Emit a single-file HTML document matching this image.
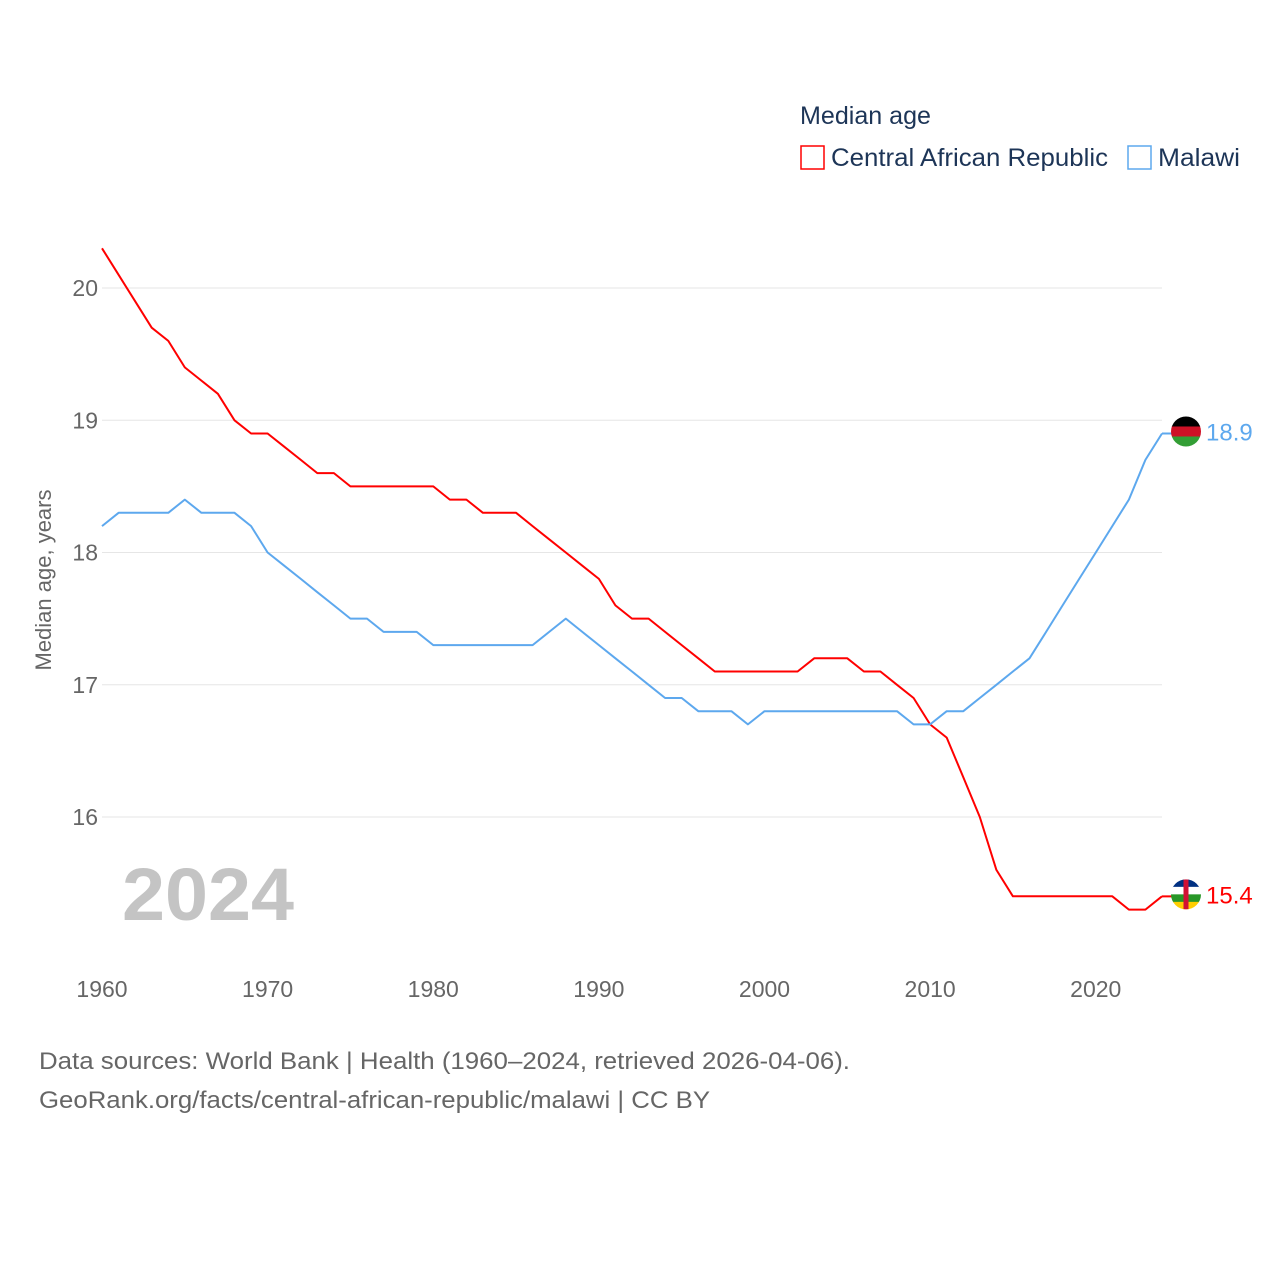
<!DOCTYPE html>
<html><head><meta charset="utf-8">
<style>
html,body{margin:0;padding:0;background:#fff;}
body{width:1280px;height:1280px;overflow:hidden;font-family:"Liberation Sans",sans-serif;}
</style></head>
<body>
<svg id="chart" width="1280" height="1280" xmlns="http://www.w3.org/2000/svg" font-family="Liberation Sans, sans-serif">
  <text x="800" y="124" font-size="25" fill="#1d3557" textLength="131" lengthAdjust="spacingAndGlyphs">Median age</text>
  <g>
    <rect x="801" y="146" width="23" height="23" fill="none" stroke="#f00" stroke-width="1.5"/>
    <text x="831" y="166" font-size="25" fill="#1d3557" textLength="277" lengthAdjust="spacingAndGlyphs">Central African Republic</text>
  </g>
  <g>
    <rect x="1128" y="146" width="23" height="23" fill="none" stroke="#5da8ee" stroke-width="1.5"/>
    <text x="1158" y="166" font-size="25" fill="#1d3557" textLength="82" lengthAdjust="spacingAndGlyphs">Malawi</text>
  </g>
  <text transform="translate(51,580) rotate(-90)" text-anchor="middle" font-size="22" fill="#666">Median age, years</text>
  <g id="grid"></g>
  <g id="xticks"></g>
  <text x="122" y="920" font-size="74" font-weight="bold" fill="#c4c4c4" textLength="172" lengthAdjust="spacingAndGlyphs">2024</text>
  <g id="series"></g>
  <text x="39" y="1069" font-size="24" fill="#666" textLength="811" lengthAdjust="spacingAndGlyphs">Data sources: World Bank | Health (1960–2024, retrieved 2026-04-06).</text>
  <text x="39" y="1108" font-size="24" fill="#666" textLength="671" lengthAdjust="spacingAndGlyphs">GeoRank.org/facts/central-african-republic/malawi | CC BY</text>
</svg>
<script>
const years = [];
for (let y = 1960; y <= 2024; y++) years.push(y);
const carValues = [20.3,20.1,19.9,19.7,19.6,19.4,19.3,19.2,19.0,18.9,18.9,18.8,18.7,18.6,18.6,18.5,18.5,18.5,18.5,18.5,18.5,18.4,18.4,18.3,18.3,18.3,18.2,18.1,18.0,17.9,17.8,17.6,17.5,17.5,17.4,17.3,17.2,17.1,17.1,17.1,17.1,17.1,17.1,17.2,17.2,17.2,17.1,17.1,17.0,16.9,16.7,16.6,16.3,16.0,15.6,15.4,15.4,15.4,15.4,15.4,15.4,15.4,15.3,15.3,15.4];
const malawiValues = [18.2,18.3,18.3,18.3,18.3,18.4,18.3,18.3,18.3,18.2,18.0,17.9,17.8,17.7,17.6,17.5,17.5,17.4,17.4,17.4,17.3,17.3,17.3,17.3,17.3,17.3,17.3,17.4,17.5,17.4,17.3,17.2,17.1,17.0,16.9,16.9,16.8,16.8,16.8,16.7,16.8,16.8,16.8,16.8,16.8,16.8,16.8,16.8,16.8,16.7,16.7,16.8,16.8,16.9,17.0,17.1,17.2,17.4,17.6,17.8,18.0,18.2,18.4,18.7,18.9];
const yTicks = [16,17,18,19,20];
const xTicks = [1960,1970,1980,1990,2000,2010,2020];

const NS = "http://www.w3.org/2000/svg";
const xScale = y => 102 + (y - 1960) * (1162 - 102) / 64;
const yScale = v => 288 + (20 - v) * 132.25;
function mk(tag, attrs, parent){const e=document.createElementNS(NS,tag);for(const k in attrs)e.setAttribute(k,attrs[k]);parent.appendChild(e);return e;}

const grid = document.getElementById('grid');
yTicks.forEach(t=>{
  const l = mk('line',{x1:102,x2:1162,y1:yScale(t),y2:yScale(t),stroke:'#e6e6e6','stroke-width':1},grid);
  
  
  const tx = mk('text',{x:98,y:yScale(t)+8,'text-anchor':'end','font-size':23,fill:'#666'},grid);
  tx.textContent = t;
  
  
});
const xg = document.getElementById('xticks');
xTicks.forEach(t=>{
  const tx = mk('text',{x:xScale(t),y:997,'text-anchor':'middle','font-size':23,fill:'#666'},xg);
  tx.textContent = t;
  
  
});

const sg = document.getElementById('series');
function drawLine(vals,color,name){
  const d = vals.map((v,i)=>(i?'L':'M')+xScale(years[i]).toFixed(1)+','+yScale(v).toFixed(1)).join(' ');
  const p = mk('path',{d:d,fill:'none',stroke:color,'stroke-width':2,'stroke-linejoin':'round'},sg);
  
  
}
drawLine(carValues,'#f00','line-central-african-republic');
drawLine(malawiValues,'#5da8ee','line-malawi');

function endLabel(vals,color,name,flag){
  const v = vals[vals.length-1];
  const cx = xScale(2024)+24, cy = yScale(v)-2;
  const g = mk('g',{},sg);
  
  
  mk('line',{x1:xScale(2024),x2:cx,y1:cy+2,y2:cy+2,stroke:color,'stroke-width':2},g);
  const cp = 'clip-'+name;
  const c = mk('clipPath',{id:cp},g); mk('circle',{cx:cx,cy:cy,r:15},c);
  const fg = mk('g',{'clip-path':'url(#'+cp+')'},g);
  flag.forEach((col,i)=>mk('rect',{x:cx-15,y:cy-15+i*30/flag.length,width:30,height:30/flag.length+0.5,fill:col},fg));
  if(name.indexOf('car')>=0) mk('rect',{x:cx-2.5,y:cy-15,width:5,height:30,fill:'#d21034'},fg);
  const t = mk('text',{x:cx+20,y:cy+9,'font-size':24,fill:color},g);
  t.textContent = v.toFixed(1);
}
endLabel(malawiValues,'#5da8ee','end-label-malawi',['#000','#ce1126','#339e35']);
endLabel(carValues,'#f00','end-label-car',['#003082','#fff','#289728','#ffce00']);
</script>
</body></html>
